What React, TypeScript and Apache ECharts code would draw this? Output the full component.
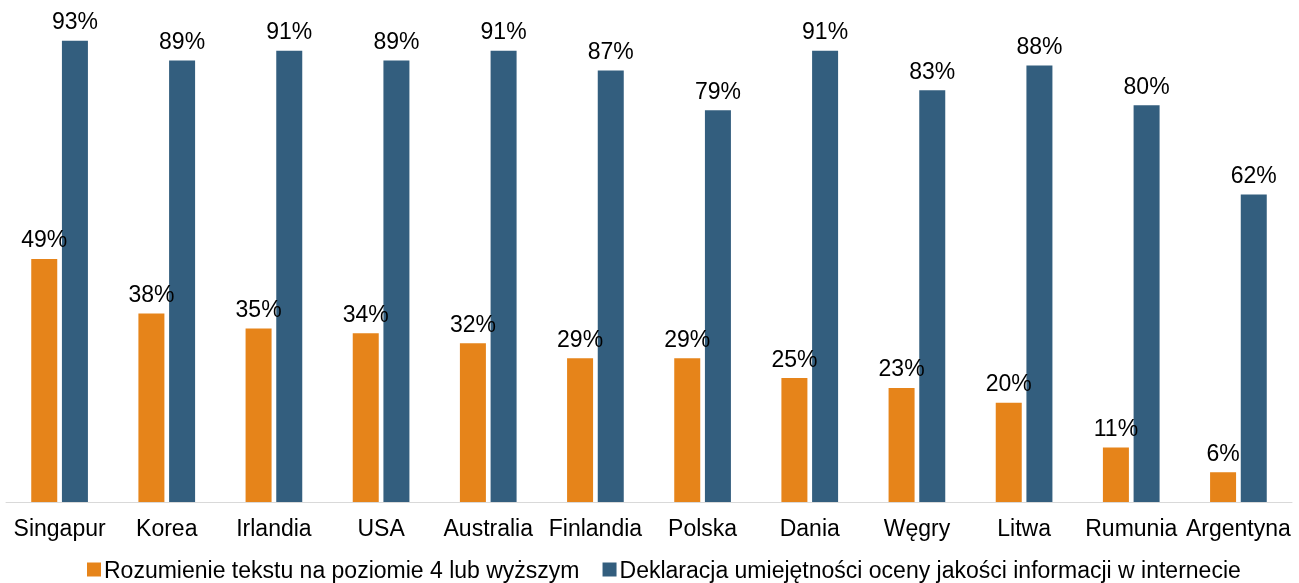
import React, { useEffect, useRef } from "react";
import * as echarts from "echarts";

const categories = ["Singapur", "Korea", "Irlandia", "USA", "Australia", "Finlandia", "Polska", "Dania", "Węgry", "Litwa", "Rumunia", "Argentyna"];
const seriesNames = ["Rozumienie tekstu na poziomie 4 lub wyższym", "Deklaracja umiejętności oceny jakości informacji w internecie"];
const readingLevel = [49, 38, 35, 34, 32, 29, 29, 25, 23, 20, 11, 6];
const declaredSkill = [93, 89, 91, 89, 91, 87, 79, 91, 83, 88, 80, 62];

const FONT = "'Liberation Sans', Arial, sans-serif";

export default function App() {
  const ref = useRef<HTMLDivElement>(null);
  useEffect(() => {
    if (!ref.current) return;
    const chart = echarts.init(ref.current, null, { renderer: "svg" });
    const label = {
      show: true,
      position: "top",
      distance: 8,
      formatter: "{c}%",
      color: "#000",
      fontSize: 23,
      fontFamily: FONT,
    };
    chart.setOption({
      animation: false,
      textStyle: { fontFamily: FONT },
      grid: { left: 6, right: 7, top: 6, bottom: 81, containLabel: false },
      legend: {
        top: 558,
        left: 87,
        padding: 0,
        itemWidth: 14,
        itemHeight: 14,
        itemGap: 23,
        icon: "rect",
        textStyle: { fontSize: 23, lineHeight: 23, color: "#000", fontFamily: FONT, padding: [0, 0, 0, -2] },
        data: seriesNames,
      },
      xAxis: {
        type: "category",
        data: categories,
        axisLine: { lineStyle: { color: "#D9D9D9", width: 1 } },
        axisTick: { show: false },
        axisLabel: { color: "#000", fontSize: 23, fontFamily: FONT, margin: 14, interval: 0 },
      },
      yAxis: {
        type: "value",
        min: 0,
        max: 100,
        show: false,
        splitLine: { show: false },
      },
      series: [
        {
          name: seriesNames[0],
          type: "bar",
          data: readingLevel,
          barWidth: 26,
          barGap: "18%",
          itemStyle: { color: "#E6841A" },
          label,
        },
        {
          name: seriesNames[1],
          type: "bar",
          data: declaredSkill,
          barWidth: 26,
          itemStyle: { color: "#335E7E" },
          label,
        },
      ],
    });
    return () => chart.dispose();
  }, []);
  return <div ref={ref} style={{ position: "fixed", left: 0, top: 0, width: 1299, height: 583 }} />;
}
